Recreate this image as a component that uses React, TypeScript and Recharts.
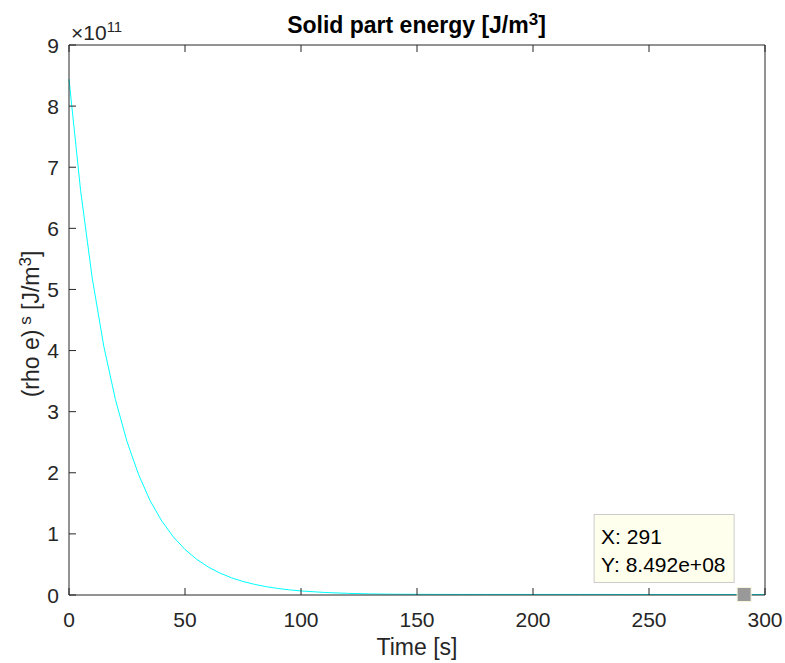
import { Line, LineChart, ReferenceDot, XAxis, YAxis } from 'recharts';

// sampled from the plotted curve, time in s, energy in J/m^3
const times = [
  0, 5, 10, 15, 20, 25, 30, 35, 40, 45, 50, 55, 60, 65, 70, 75, 80, 85, 90, 95, 100,
  110, 120, 130, 140, 150, 160, 170, 180, 200, 220, 240, 260, 280, 291, 300
];
const energy = [
  8.44e11, 6.62e11, 5.19e11, 4.07e11, 3.2e11, 2.51e11, 1.97e11, 1.54e11, 1.21e11, 0.95e11,
  0.745e11, 0.585e11, 0.459e11, 0.36e11, 0.282e11, 0.221e11, 0.174e11, 0.136e11, 0.107e11,
  0.084e11, 0.066e11, 0.042e11, 0.027e11, 0.018e11, 0.013e11, 0.011e11, 0.0098e11, 0.0093e11,
  0.009e11, 0.0088e11, 0.0087e11, 0.0086e11, 0.0085e11, 0.00849e11, 0.008492e11, 0.00849e11
];
const xTicks = [0, 50, 100, 150, 200, 250, 300];
const yTicks = [0, 1e11, 2e11, 3e11, 4e11, 5e11, 6e11, 7e11, 8e11, 9e11];
const tipX = 291;
const tipY = 8.492e8;

const data = times.map((t, i) => ({ t, e: energy[i] }));

const AXIS = '#262626';
const FONT = '"Liberation Sans", Arial, Helvetica, sans-serif';
const M = 10;
const TL = 7;

function BottomTick({ x, y, payload }: any) {
  return (
    <g>
      <line x1={x} x2={x} y1={y - M} y2={y - M - TL} stroke={AXIS} />
      <text x={x} y={y + 22} textAnchor="middle" fontSize={21} fill={AXIS} fontFamily={FONT}>
        {payload.value}
      </text>
    </g>
  );
}

function TopTick({ x, y }: any) {
  return <line x1={x} x2={x} y1={y + M} y2={y + M + TL} stroke={AXIS} />;
}

function LeftTick({ x, y, payload }: any) {
  return (
    <g>
      <line x1={x + M} x2={x + M + TL} y1={y} y2={y} stroke={AXIS} />
      <text x={x} y={y + 7.5} textAnchor="end" fontSize={21} fill={AXIS} fontFamily={FONT}>
        {payload.value / 1e11}
      </text>
    </g>
  );
}

function RightTick({ x, y }: any) {
  return <line x1={x - M} x2={x - M - TL} y1={y} y2={y} stroke={AXIS} />;
}

function DataTip({ cx, cy }: any) {
  return (
    <g>
      <rect x={cx - 150} y={cy - 80} width={140} height={68} fill="#ffffee" stroke="#cccccc" />
      <text x={cx - 143} y={cy - 50} fontSize={21} fill="#000" fontFamily={FONT}>
        X: {tipX}
      </text>
      <text x={cx - 143} y={cy - 22} fontSize={21} fill="#000" fontFamily={FONT}>
        Y: {tipY.toExponential(3).replace('e+', 'e+0')}
      </text>
      <rect x={cx - 7} y={cy - 7} width={14} height={14} fill="#999999" stroke="#f5f5dc" />
    </g>
  );
}

const sup = (size: number, lift: string) => ({ fontSize: size, lineHeight: 0, verticalAlign: lift });

export default function App() {
  return (
    <div style={{ position: 'absolute', left: 0, top: 0, width: 785, height: 663, background: '#fff', fontFamily: FONT }}>
      <LineChart width={785} height={663} data={data} margin={{ top: 0, right: 0, bottom: 0, left: 0 }}>
        <XAxis
          xAxisId="b"
          dataKey="t"
          type="number"
          domain={[0, 300]}
          ticks={xTicks}
          height={68}
          tickSize={0}
          tickMargin={M}
          tick={<BottomTick />}
          axisLine={{ stroke: AXIS }}
          tickLine={false}
        />
        <XAxis
          xAxisId="top"
          orientation="top"
          dataKey="t"
          type="number"
          domain={[0, 300]}
          ticks={xTicks}
          height={45}
          tickSize={0}
          tickMargin={M}
          tick={<TopTick />}
          axisLine={{ stroke: AXIS }}
          tickLine={false}
        />
        <YAxis
          yAxisId="l"
          type="number"
          domain={[0, 9e11]}
          ticks={yTicks}
          width={69}
          tickSize={0}
          tickMargin={M}
          tick={<LeftTick />}
          axisLine={{ stroke: AXIS }}
          tickLine={false}
        />
        <YAxis
          yAxisId="r"
          orientation="right"
          type="number"
          domain={[0, 9e11]}
          ticks={yTicks}
          width={20}
          tickSize={0}
          tickMargin={M}
          tick={<RightTick />}
          axisLine={{ stroke: AXIS }}
          tickLine={false}
        />
        <Line
          xAxisId="b"
          yAxisId="l"
          dataKey="e"
          stroke="#00ffff"
          strokeWidth={1}
          dot={false}
          isAnimationActive={false}
        />
        <ReferenceDot xAxisId="b" yAxisId="l" x={tipX} y={tipY} shape={<DataTip />} />
      </LineChart>

      <div style={{ position: 'absolute', left: 0, width: 833, top: 12, textAlign: 'center', fontWeight: 'bold', fontSize: 23, color: '#000', lineHeight: '26px' }}>
        Solid part energy [J/m<sup style={sup(17, '0.5em')}>3</sup>]
      </div>
      <div style={{ position: 'absolute', left: 71, top: 21, fontSize: 21, color: AXIS, lineHeight: '24px' }}>
        ×10<sup style={sup(15, '0.55em')}>11</sup>
      </div>
      <div style={{ position: 'absolute', left: 0, width: 834, top: 634, textAlign: 'center', fontSize: 23, color: AXIS, lineHeight: '26px' }}>
        Time [s]
      </div>
      <div
        style={{
          position: 'absolute',
          left: 31,
          top: 324,
          transform: 'translate(-50%, -50%) rotate(-90deg)',
          whiteSpace: 'nowrap',
          fontSize: 23,
          lineHeight: '26px',
          color: AXIS
        }}
      >
        (rho e)<sup style={sup(17, '0.5em')}> s</sup> [J/m<sup style={sup(17, '0.5em')}>3</sup>]
      </div>
    </div>
  );
}
